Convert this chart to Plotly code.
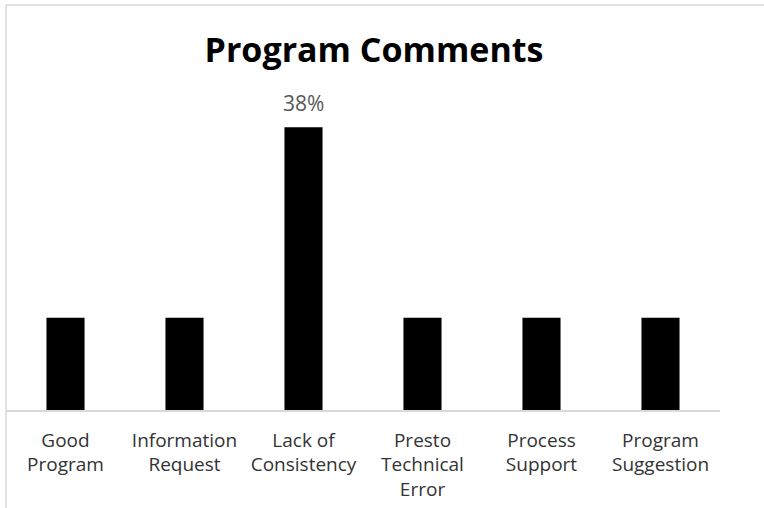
import plotly.graph_objects as go

# Share of program comments by category (percent)
categories = ["Good<br>Program", "Information<br>Request", "Lack of<br>Consistency",
              "Presto<br>Technical<br>Error", "Process<br>Support", "Program<br>Suggestion"]
shares = [12.4, 12.4, 38.0, 12.4, 12.4, 12.4]
labelled = [False, False, True, False, False, False]

W, H = 764, 508
ML, MR, MT, MB = 6, 44, 90, 98
plot_h = H - MT - MB
y_max = 43.0

fig = go.Figure(go.Bar(
    x=categories, y=shares,
    marker=dict(color="#000000", line=dict(width=0)),
    hoverinfo="skip",
))

# Data label above the tallest bar, text taken from its value
for cat, val, show in zip(categories, shares, labelled):
    if show:
        fig.add_annotation(x=cat, y=val, xref="x", yref="y",
                           text=f"{val:.0f}%", showarrow=False,
                           yanchor="bottom", yshift=8,
                           font=dict(family="Open Sans, sans-serif", size=21, color="#595959"))

# Light grey outer frame (top and left edges visible)
top_paper = 1 + (MT - 5) / plot_h
bottom_paper = -(MB + 20) / plot_h
fig.add_shape(type="line", xref="paper", yref="paper",
              x0=0, x1=0, y0=bottom_paper, y1=top_paper,
              line=dict(color="#d9d9d9", width=1.5))
fig.add_shape(type="line", xref="paper", yref="paper",
              x0=0, x1=2, y0=top_paper, y1=top_paper,
              line=dict(color="#d9d9d9", width=1.5))

fig.update_layout(
    width=W, height=H,
    margin=dict(l=ML, r=MR, t=MT, b=MB, pad=0),
    paper_bgcolor="white", plot_bgcolor="white",
    bargap=0.68,
    showlegend=False,
    title=dict(text="<b>Program Comments</b>", x=374 / W, xanchor="center",
               y=1 - 50 / H, yanchor="middle",
               font=dict(family="Open Sans, Arial, sans-serif", size=34, color="#000000")),
    xaxis=dict(showline=True, linecolor="#d9d9d9", linewidth=1.5,
               ticks="", showgrid=False, ticklabelstandoff=12,
               tickfont=dict(family="Open Sans, sans-serif", size=19, color="#333333")),
    yaxis=dict(range=[0, y_max], visible=False, showgrid=False, zeroline=False),
)

fig.write_html("out.html")
